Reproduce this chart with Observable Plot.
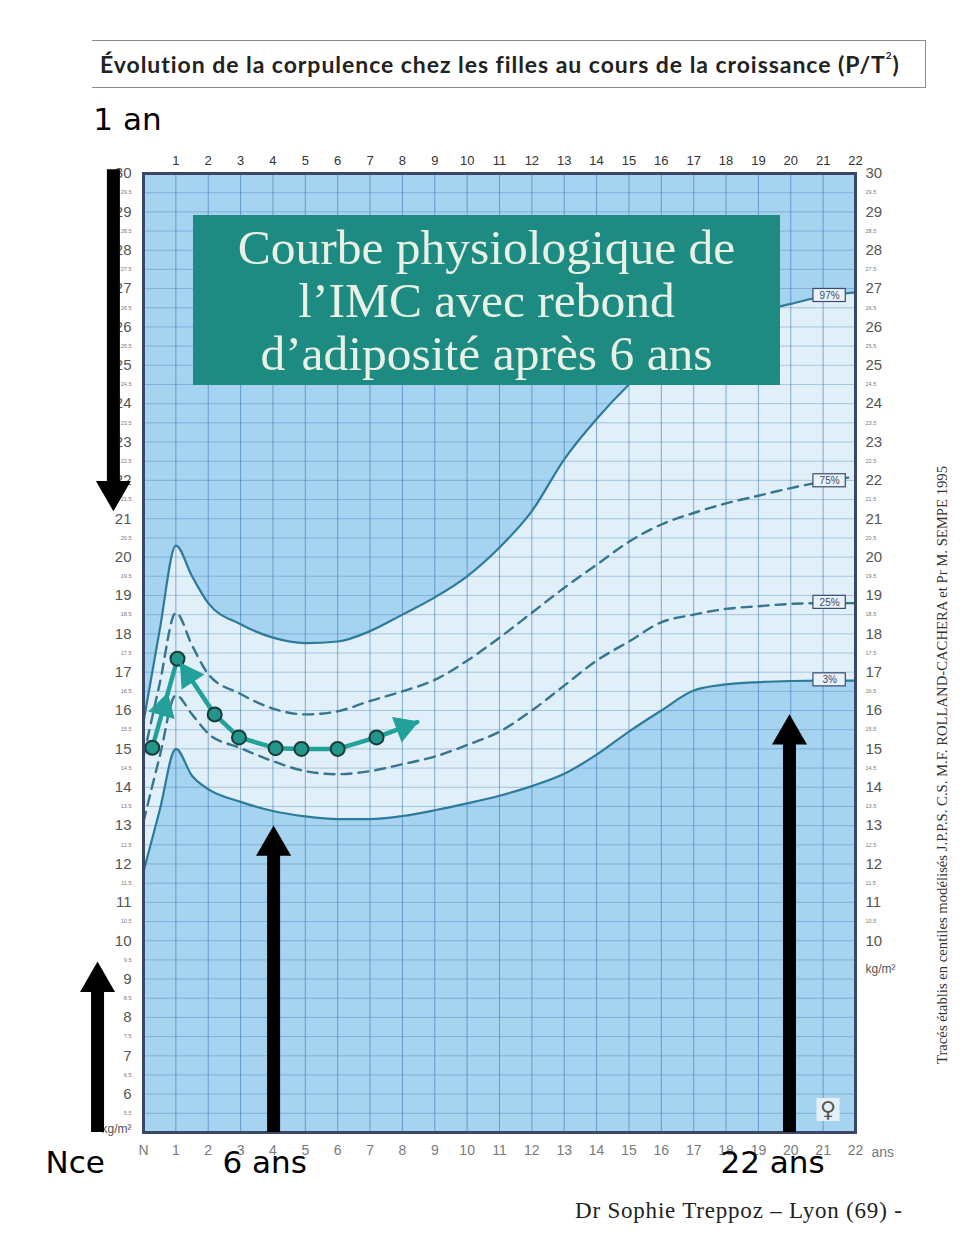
<!DOCTYPE html>
<html><head><meta charset="utf-8">
<script src="https://cdn.jsdelivr.net/npm/d3@7"></script>
<script src="https://cdn.jsdelivr.net/npm/@observablehq/plot@0.6"></script>
<style>
body{margin:0;background:#fff;}
#wrap{position:relative;width:963px;height:1244px;overflow:hidden;background:#fff;}
#chart{position:absolute;left:0;top:0;}
.title{position:absolute;left:92px;top:40px;width:834px;height:48px;border-top:1.5px solid #8a8a8a;border-bottom:1.5px solid #8a8a8a;border-right:1.5px solid #8a8a8a;box-sizing:border-box;}
.title span{position:absolute;left:8px;top:0;font-family:Lato,"Open Sans",sans-serif;font-weight:700;font-size:23px;line-height:46px;color:#222;white-space:nowrap;}
.title sup{font-size:10px;vertical-align:top;line-height:28px;}
.box{position:absolute;left:193px;top:215px;width:587px;height:170px;background:#1d8b82;color:#e8f1e4;font-family:"Liberation Serif","DejaVu Serif",serif;font-size:49.5px;line-height:53px;text-align:center;padding-top:6px;box-sizing:border-box;white-space:nowrap;}
.footer{position:absolute;left:575px;top:1198px;font-family:"Liberation Serif",serif;font-size:23px;letter-spacing:0.8px;color:#222;white-space:nowrap;}
.side{position:absolute;left:942px;top:765px;transform:translate(-50%,-50%) rotate(-90deg);white-space:nowrap;font-family:"Liberation Serif",serif;font-size:14.7px;color:#333;}
</style></head>
<body><div id="wrap">
<div id="chart"></div>
<div class="title"><span id="ttl">Évolution de la corpulence chez les filles au cours de la croissance (P/T<sup>2</sup>)</span></div>
<div class="box">Courbe physiologique de<br>l’IMC avec rebond<br>d’adiposité après 6 ans</div>
<div class="footer">Dr Sophie Treppoz – Lyon (69) -</div>
<div class="side">Tracés établis en centiles modélisés J.P.P.S. C.S. M.F. ROLLAND-CACHERA et Pr M. SEMPE 1995</div>
</div>
<script>
// ---- data: percentile curves (BMI kg/m², girls) ----
const ages = [0,0.5,1,1.5,2,3,4,5,6,7,8,9,10,11,12,13,14,15,16,17,18,19,20,21,22];
const p97 = [15.7,18.1,20.3,19.5,18.8,18.25,17.9,17.76,17.8,18.07,18.5,18.95,19.5,20.25,21.2,22.55,23.6,24.5,25.25,25.8,26.15,26.4,26.6,26.8,26.9];
const p75 = [14.8,16.7,18.55,17.7,16.95,16.43,16.05,15.9,15.98,16.25,16.5,16.8,17.3,17.9,18.55,19.2,19.8,20.4,20.85,21.15,21.4,21.6,21.8,21.97,22.1];
const p25 = [13.1,14.8,16.4,15.9,15.4,15.02,14.68,14.42,14.34,14.42,14.6,14.8,15.1,15.45,16.0,16.65,17.3,17.8,18.3,18.5,18.65,18.72,18.78,18.8,18.8];
const p3  = [11.8,13.4,15.0,14.3,13.95,13.62,13.38,13.24,13.17,13.17,13.25,13.4,13.58,13.78,14.03,14.35,14.85,15.45,16.0,16.52,16.68,16.74,16.77,16.78,16.78];
const percentileNames = ["97%","75%","25%","3%"];

// ---- data: physiological patient curve ----
const patientAge = [0.27,1.05,2.2,2.95,4.08,4.88,6.0,7.2,8.46];
const patientBmi = [15.03,17.35,15.9,15.3,15.02,15.0,15.0,15.3,15.7];
const patientDotCount = 8;
const patientArrows = [{from:0,to:1,t:0.45},{from:2,to:1,t:0.7},{from:7,to:8,t:1}];

// ---- tick labels ----
const topTicks = [1,2,3,4,5,6,7,8,9,10,11,12,13,14,15,16,17,18,19,20,21,22];
const bottomTicks = [0,1,2,3,4,5,6,7,8,9,10,11,12,13,14,15,16,17,18,19,20,21,22];
const bottomLabels = ["N","1","2","3","4","5","6","7","8","9","10","11","12","13","14","15","16","17","18","19","20","21","22"];
const leftTicks = [6,7,8,9,10,11,12,13,14,15,16,17,18,19,20,21,22,23,24,25,26,27,28,29,30];
const rightTicks = [10,11,12,13,14,15,16,17,18,19,20,21,22,23,24,25,26,27,28,29,30];
const leftHalfTicks = [5.5,6.5,7.5,8.5,9.5,10.5,11.5,12.5,13.5,14.5,15.5,16.5,17.5,18.5,19.5,20.5,21.5,22.5,23.5,24.5,25.5,26.5,27.5,28.5,29.5];
const rightHalfTicks = [10.5,11.5,12.5,13.5,14.5,15.5,16.5,17.5,18.5,19.5,20.5,21.5,22.5,23.5,24.5,25.5,26.5,27.5,28.5,29.5];
const gridYears = bottomTicks;
const gridHalf = [5,5.5,6,6.5,7,7.5,8,8.5,9,9.5,10,10.5,11,11.5,12,12.5,13,13.5,14,14.5,15,15.5,16,16.5,17,17.5,18,18.5,19,19.5,20,20.5,21,21.5,22,22.5,23,23.5,24,24.5,25,25.5,26,26.5,27,27.5,28,28.5,29,29.5,30];

// ---- annotations (black arrows, in age / kg·m⁻² units) ----
const arrowX = [-0.93,-1.42,4.02,19.96];
const arrowFrom = [30.1,5,5,5];
const arrowTip = [21.2,9.45,13.0,15.9];
const arrowText = ["1 an","Nce","6 ans","22 ans"];
const arrowTextX = [-1.55,-3.03,2.44,17.83];
const arrowTextY = [31.38,4.19,4.19,4.19];

// ---- build tables ----
const table = ages.map((a,i)=>({age:a,p3:p3[i],p25:p25[i],p75:p75[i],p97:p97[i]}));
const patient = patientAge.map((a,i)=>({age:a,bmi:patientBmi[i]}));
const W = 963, H = 1244, mL = 143, mR = 108, mT = 173, mB = 112;
const kx = (W-mL-mR)/22, ky = (H-mT-mB)/25;

const idx21 = ages.indexOf(21);
const labelRows = [p97,p75,p25,p3].map((s,i)=>({name:percentileNames[i],x:21.2,y:s[idx21]+0.02}));

const heads = patientArrows.map(a=>{
  const p=patient[a.from], q=patient[a.to];
  const dxp=(q.age-p.age)*kx, dyp=-(q.bmi-p.bmi)*ky;
  const len=Math.hypot(dxp,dyp);
  const ang=Math.atan2(dxp,-dyp)*180/Math.PI;
  let x=p.age+a.t*(q.age-p.age), y=p.bmi+a.t*(q.bmi-p.bmi);
  if(a.t===1){ const back=14/len; x-=(q.age-p.age)*back; y-=(q.bmi-p.bmi)*back; }
  return {x,y,ang};
});

const arrows = arrowX.map((x,i)=>{
  const up = arrowTip[i] > arrowFrom[i];
  const off = 20/ky;
  return {x, from:arrowFrom[i], c: up ? arrowTip[i]-off : arrowTip[i]+off, rot: up?0:180};
});
const arrowLabels = arrowText.map((t,i)=>({t,x:arrowTextX[i],y:arrowTextY[i]}));

const lineCol = "#2d7b9b";
const dashCol = "#35758e";
const gridCol = "#2f6fae";
const curve = "monotone-x";

const chart = Plot.plot({
  width: W, height: H,
  marginLeft: mL, marginRight: mR, marginTop: mT, marginBottom: mB,
  x: {domain:[0,22], label:null, axis:null},
  y: {domain:[5,30], label:null, axis:null},
  style: {background:"transparent", fontFamily:"'Liberation Sans', Arial, sans-serif", overflow:"visible"},
  marks: [
    Plot.frame({fill:"#a5d3f0", stroke:null}),
    Plot.areaY(table,{x:"age", y1:"p3", y2:"p97", fill:"#e1eff9", curve}),
    Plot.gridY(gridHalf,{stroke:gridCol, strokeOpacity:0.33, strokeWidth:1}),
    Plot.gridX(gridYears,{stroke:gridCol, strokeOpacity:0.55, strokeWidth:1}),
    Plot.line(table,{x:"age", y:"p97", stroke:lineCol, strokeWidth:2.2, curve}),
    Plot.line(table,{x:"age", y:"p3", stroke:lineCol, strokeWidth:2.2, curve}),
    Plot.line(table,{x:"age", y:"p75", stroke:dashCol, strokeWidth:2.4, strokeDasharray:"10,7", curve}),
    Plot.line(table,{x:"age", y:"p25", stroke:dashCol, strokeWidth:2.4, strokeDasharray:"10,7", curve}),
    Plot.rect(labelRows,{x1:d=>d.x-0.5, x2:d=>d.x+0.5, y1:d=>d.y-0.17, y2:d=>d.y+0.17, fill:"#e8f2f8", stroke:"#3b4b70", strokeWidth:1.2}),
    Plot.text(labelRows,{x:"x", y:"y", text:"name", fontSize:10, fill:"#3b4b70"}),
    // patient curve
    Plot.line(patient,{x:"age", y:"bmi", stroke:"#22a09a", strokeWidth:4.5, strokeLinejoin:"round"}),
    Plot.dot(patient.slice(0,patientDotCount),{x:"age", y:"bmi", r:7, fill:"#23968c", stroke:"#173c3a", strokeWidth:2}),
    Plot.dot(heads,{x:"x", y:"y", symbol:"triangle", r:9.5, rotate:"ang", fill:"#22a09a", stroke:"#22a09a", strokeWidth:1}),
    // frame
    Plot.frame({stroke:"#3a4766", strokeWidth:3}),
    // female symbol
    Plot.dot([{x:21.15,y:5.6}],{x:"x", y:"y", symbol:"square", r:13, fill:"#e5eff6"}),
    Plot.text([{x:21.15,y:5.6}],{x:"x", y:"y", text:()=>"♀", fontSize:22, fill:"#555", fontFamily:"DejaVu Sans"}),
    // axes
    Plot.axisX(topTicks,{anchor:"top", tickSize:0, tickPadding:9, fontSize:13, color:"#333", label:null}),
    Plot.axisX(bottomTicks,{anchor:"bottom", tickSize:0, tickPadding:13, fontSize:14, color:"#7a7a7a", label:null, tickFormat:d=>bottomLabels[d]}),
    Plot.text([{x:22,y:5}],{x:"x", y:"y", text:()=>"ans", dx:16, dy:20, textAnchor:"start", fontSize:14, fill:"#7a7a7a"}),
    Plot.axisY(leftTicks,{anchor:"left", tickSize:0, tickPadding:12, fontSize:15, color:"#555", label:null}),
    Plot.axisY(leftHalfTicks,{anchor:"left", tickSize:0, tickPadding:12, fontSize:5.5, color:"#777", label:null, tickFormat:d=>d.toFixed(1)}),
    Plot.text([{x:0,y:5.1}],{x:"x", y:"y", text:()=>"kg/m²", dx:-12, textAnchor:"end", fontSize:12, fill:"#555"}),
    Plot.axisY(rightTicks,{anchor:"right", tickSize:0, tickPadding:10, fontSize:15, color:"#555", label:null}),
    Plot.axisY(rightHalfTicks,{anchor:"right", tickSize:0, tickPadding:10, fontSize:5.5, color:"#777", label:null, tickFormat:d=>d.toFixed(1)}),
    Plot.text([{x:22,y:9.27}],{x:"x", y:"y", text:()=>"kg/m²", dx:10, textAnchor:"start", fontSize:12, fill:"#555"}),
    // black annotation arrows
    Plot.ruleX(arrows,{x:"x", y1:"from", y2:"c", stroke:"#000", strokeWidth:13, clip:false}),
    Plot.dot(arrows,{x:"x", y:"c", symbol:"triangle", r:13, rotate:"rot", fill:"#000", clip:false}),
    Plot.text(arrowLabels,{x:"x", y:"y", text:"t", textAnchor:"start", fontSize:31, fill:"#000", fontFamily:"'DejaVu Sans', sans-serif"})
  ]
});
document.getElementById("chart").appendChild(chart);

// stretch the title to the width it has in the reference
const ttl = document.getElementById("ttl");
const target = 800, w0 = ttl.getBoundingClientRect().width;
const n = ttl.textContent.length;
ttl.style.letterSpacing = ((target - w0) / n) + "px";
</script>
</body></html>
